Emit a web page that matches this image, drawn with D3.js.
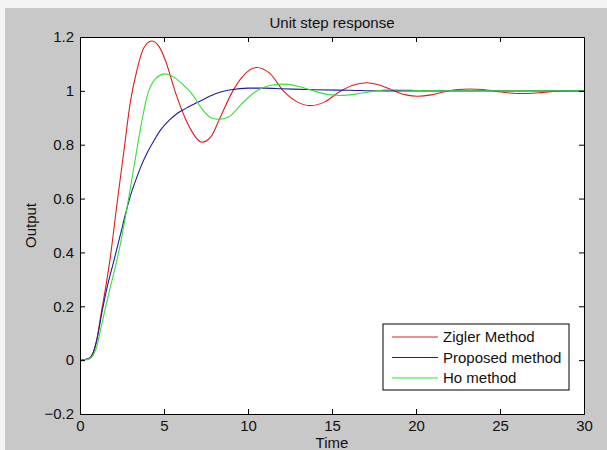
<!DOCTYPE html>
<html>
<head>
<meta charset="utf-8">
<script src="https://cdn.jsdelivr.net/npm/d3@7"></script>
<style>
  body { margin: 0; background: #f4f4f4; }
  svg { display: block; font-family: "Liberation Sans", Arial, sans-serif; }
</style>
</head>
<body>
<svg id="chart" width="607" height="450"></svg>
<script>
// Time axis and readings
const xTicks = [0, 5, 10, 15, 20, 25, 30];
const yTicks = [-0.2, 0, 0.2, 0.4, 0.6, 0.8, 1, 1.2];

const ziglerT = [0, 0.5, 0.8, 1.0, 1.25, 1.5, 1.8, 2.2, 2.6, 3.0, 3.4, 3.8, 4.27, 4.7, 5.1, 5.65, 6.25, 6.7, 7.24, 7.8, 8.3, 9.1, 9.7, 10.5, 11.3, 12.1, 12.9, 13.7, 14.6, 15.4, 16.2, 17.06, 17.9, 18.7, 19.4, 20.1, 20.9, 21.7, 22.5, 23.2, 24.0, 24.8, 25.6, 26.4, 27.3, 28.2, 29.1, 30];
const ziglerY = [0, 0.005, 0.03, 0.075, 0.17, 0.26, 0.38, 0.58, 0.77, 0.96, 1.08, 1.16, 1.185, 1.165, 1.11, 1.0, 0.9, 0.845, 0.809, 0.83, 0.895, 1.0, 1.055, 1.087, 1.065, 1.0, 0.96, 0.945, 0.96, 0.995, 1.02, 1.03, 1.02, 1.0, 0.985, 0.98, 0.985, 0.997, 1.005, 1.007, 1.005, 0.998, 0.992, 0.99, 0.993, 0.998, 1.0, 1.0];

const proposedT = [0, 0.5, 0.8, 1.0, 1.3, 1.65, 2.0, 2.4, 2.8, 3.0, 3.3, 3.6, 4.0, 4.4, 4.8, 5.3, 5.8, 6.3, 6.8, 7.4, 8.1, 9.0, 10, 11, 12, 14, 16, 18, 30];
const proposedY = [0, 0.005, 0.03, 0.075, 0.175, 0.28, 0.365, 0.465, 0.565, 0.61, 0.665, 0.715, 0.77, 0.815, 0.855, 0.89, 0.917, 0.935, 0.951, 0.97, 0.99, 1.004, 1.01, 1.01, 1.008, 1.004, 1.002, 1.0, 1.0];

const hoT = [0, 0.5, 0.8, 1.0, 1.25, 1.5, 1.8, 2.1, 2.4, 2.7, 3.0, 3.3, 3.6, 3.97, 4.5, 5.06, 5.6, 6.1, 6.65, 7.3, 7.8, 8.29, 8.9, 9.6, 10.4, 11.3, 12.2, 13.1, 14.0, 14.8, 15.5, 16.4, 17.4, 18.5, 19.6, 21, 23, 26, 30];
const hoY = [0, 0.003, 0.02, 0.05, 0.12, 0.19, 0.27, 0.345, 0.43, 0.53, 0.64, 0.75, 0.86, 0.975, 1.045, 1.063, 1.05, 1.025, 0.99, 0.93, 0.9, 0.894, 0.905, 0.95, 0.995, 1.02, 1.025, 1.015, 0.998, 0.986, 0.983, 0.988, 0.998, 1.004, 1.003, 1.0, 1.0, 1.0, 1.0];

const seriesNames = ['Zigler Method', 'Proposed method', 'Ho method'];
const seriesColors = ['#dd1c1c', '#1c1ca0', '#38e038'];

const W = 607, H = 450;
const margin = {top: 37, right: 23, bottom: 36, left: 80};
const width = W - margin.left - margin.right;
const height = H - margin.top - margin.bottom;

const svg = d3.select('#chart');

// figure background (MATLAB grey)
svg.append('rect')
    .attr('x', 5).attr('y', 8)
    .attr('width', W - 5).attr('height', H - 8)
    .attr('fill', '#c8c8c8');

const x = d3.scaleLinear().domain([0, 30]).range([0, width]);
const y = d3.scaleLinear().domain([-0.2, 1.2]).range([height, 0]);

const g = svg.append('g')
    .attr('transform', `translate(${margin.left},${margin.top})`);

g.append('rect')
    .attr('width', width).attr('height', height)
    .attr('fill', '#fff');

// lines
const series = [
  {t: ziglerT, v: ziglerY},
  {t: proposedT, v: proposedY},
  {t: hoT, v: hoY}
];
const line = d3.line()
    .x(d => x(d[0]))
    .y(d => y(d[1]))
    .curve(d3.curveMonotoneX);

series.forEach((s, i) => {
  g.append('path')
      .datum(s.t.map((t, k) => [t, s.v[k]]))
      .attr('fill', 'none')
      .attr('stroke', seriesColors[i])
      .attr('stroke-width', 1.1)
      .attr('d', line);
});

// axes, ticks pointing inward like MATLAB
const tickSize = 5;
const fontSize = '15px';

const xAxisB = d3.axisBottom(x).tickValues(xTicks).tickSize(-tickSize).tickFormat(d3.format('d'));
const xAxisT = d3.axisTop(x).tickValues(xTicks).tickSize(-tickSize).tickFormat('');
const yAxisL = d3.axisLeft(y).tickValues(yTicks).tickSize(-tickSize).tickPadding(6).tickFormat(d => d3.format('')(+d.toFixed(1)));
const yAxisR = d3.axisRight(y).tickValues(yTicks).tickSize(-tickSize).tickFormat('');

const styleAxis = sel => {
  sel.selectAll('path').attr('stroke', '#000');
  sel.selectAll('line').attr('stroke', '#000');
  sel.selectAll('text').attr('fill', '#111').style('font-size', fontSize).style('font-family', '"Liberation Sans", Arial, sans-serif');
};

g.append('g').attr('transform', `translate(0,${height})`).call(xAxisB).call(styleAxis)
    .selectAll('text').attr('y', 6).attr('dy', '0.71em');
g.append('g').call(xAxisT).call(styleAxis);
g.append('g').call(yAxisL).call(styleAxis);
g.append('g').attr('transform', `translate(${width},0)`).call(yAxisR).call(styleAxis);

// titles
svg.append('text')
    .attr('x', margin.left + width / 2).attr('y', 28)
    .attr('text-anchor', 'middle')
    .style('font-size', fontSize).attr('fill', '#111')
    .text('Unit step response');

svg.append('text')
    .attr('x', margin.left + width / 2).attr('y', 448)
    .attr('text-anchor', 'middle')
    .style('font-size', fontSize).attr('fill', '#111')
    .text('Time');

svg.append('text')
    .attr('transform', `translate(36,${margin.top + height / 2}) rotate(-90)`)
    .attr('text-anchor', 'middle')
    .style('font-size', fontSize).attr('fill', '#111')
    .text('Output');

// legend
const legend = svg.append('g').attr('transform', 'translate(383,324)');
legend.append('rect')
    .attr('width', 186).attr('height', 66)
    .attr('fill', '#fff').attr('stroke', '#000');
seriesNames.forEach((name, i) => {
  const yy = 13 + i * 20.5;
  legend.append('line')
      .attr('x1', 9).attr('x2', 55).attr('y1', yy).attr('y2', yy)
      .attr('stroke', seriesColors[i]).attr('stroke-width', 1.1);
  legend.append('text')
      .attr('x', 60).attr('y', yy).attr('dy', '0.35em')
      .style('font-size', fontSize).attr('fill', '#111')
      .text(name);
});
</script>
</body>
</html>
